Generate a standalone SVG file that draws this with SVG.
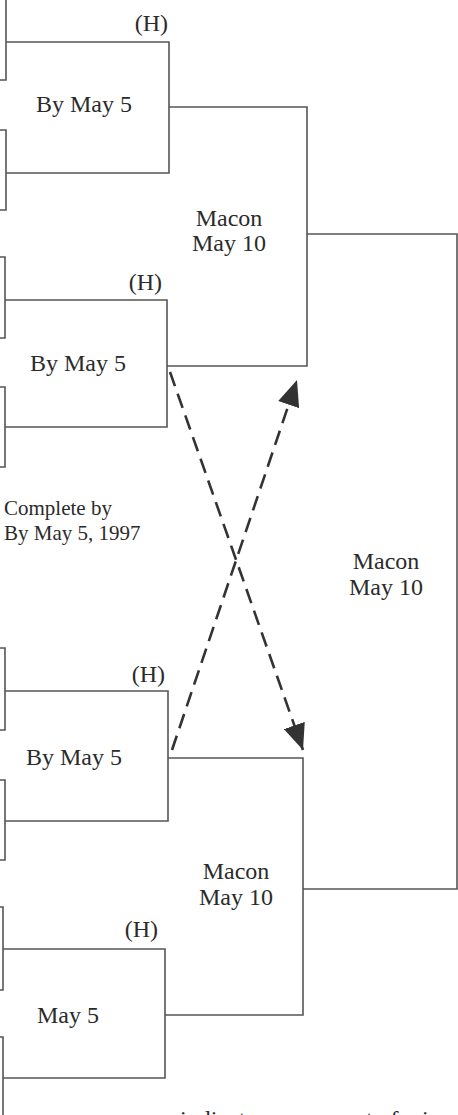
<svg xmlns="http://www.w3.org/2000/svg" width="458" height="1115" viewBox="0 0 458 1115">
  <style>
    .ln { fill: none; stroke: #555; stroke-width: 1.6; }
    .dash { fill: none; stroke: #333; stroke-width: 2.6; stroke-dasharray: 15 8; }
    .t { font-family: "Liberation Serif", "Times New Roman", serif; font-size: 24px; fill: #2b2b2b; }
    .s { font-size: 21px; }
    .c { text-anchor: middle; }
    .e { text-anchor: end; }
  </style>
  <defs>
    <marker id="head" viewBox="0 0 26 22" refX="26" refY="11" markerWidth="26" markerHeight="22" markerUnits="userSpaceOnUse" orient="auto">
      <path d="M0,0 L26,11 L0,22 z" fill="#333"/>
    </marker>
  </defs>
  <rect width="458" height="1115" fill="#fff"/>

  <!-- first-round pairings (entry brackets on the left edge) -->
  <g id="game-1">
    <path class="ln" d="M0,-4 H6 V80 H0"/>
    <path class="ln" d="M0,130 H6 V210 H0"/>
    <path class="ln" d="M6,42 H169 V173 H6"/>
    <text class="t e" x="168" y="31">(H)</text>
    <text class="t c" x="84" y="112">By May 5</text>
  </g>
  <g id="game-2">
    <path class="ln" d="M0,257 H5 V338 H0"/>
    <path class="ln" d="M0,387 H5 V467 H0"/>
    <path class="ln" d="M5,300 H167 V427 H5"/>
    <text class="t e" x="162" y="290">(H)</text>
    <text class="t c" x="78" y="371">By May 5</text>
  </g>
  <g id="game-3">
    <path class="ln" d="M0,648 H5 V730 H0"/>
    <path class="ln" d="M0,780 H5 V860 H0"/>
    <path class="ln" d="M5,691 H168 V821 H5"/>
    <text class="t e" x="165" y="682">(H)</text>
    <text class="t c" x="74" y="765">By May 5</text>
  </g>
  <g id="game-4">
    <path class="ln" d="M0,907 H3 V990 H0"/>
    <path class="ln" d="M0,1037 H3 V1120 H0"/>
    <path class="ln" d="M3,949 H165 V1078 H3"/>
    <text class="t e" x="158" y="937">(H)</text>
    <text class="t c" x="68" y="1023">May 5</text>
  </g>

  <!-- second round -->
  <g id="semi-1">
    <text class="t c" x="229" y="226">Macon</text>
    <text class="t c" x="229" y="251">May 10</text>
  </g>
  <g id="semi-2">
    <text class="t c" x="236" y="879">Macon</text>
    <text class="t c" x="236" y="905">May 10</text>
  </g>

  <!-- final -->
  <g id="final">
    <text class="t c" x="386" y="569">Macon</text>
    <text class="t c" x="386" y="595">May 10</text>
  </g>

  <g id="deadline-note">
    <text class="t s" x="4" y="515">Complete by</text>
    <text class="t s" x="4" y="540">By May 5, 1997</text>
  </g>

  <g id="connectors">
    <path class="ln" d="M169,107 H307 V366 H167"/>
    <path class="ln" d="M307,234 H457 V889 H303"/>
    <path class="ln" d="M168,758 H303 V1015 H165"/>
    <line class="dash" x1="170" y1="372" x2="303" y2="750" marker-end="url(#head)"/>
    <line class="dash" x1="172" y1="750" x2="297" y2="380" marker-end="url(#head)"/>
  </g>

  <!-- legend line, running off the bottom edge -->
  <g id="legend">
    <text class="t" x="180" y="1127">indicates movement of winners</text>
  </g>
</svg>
